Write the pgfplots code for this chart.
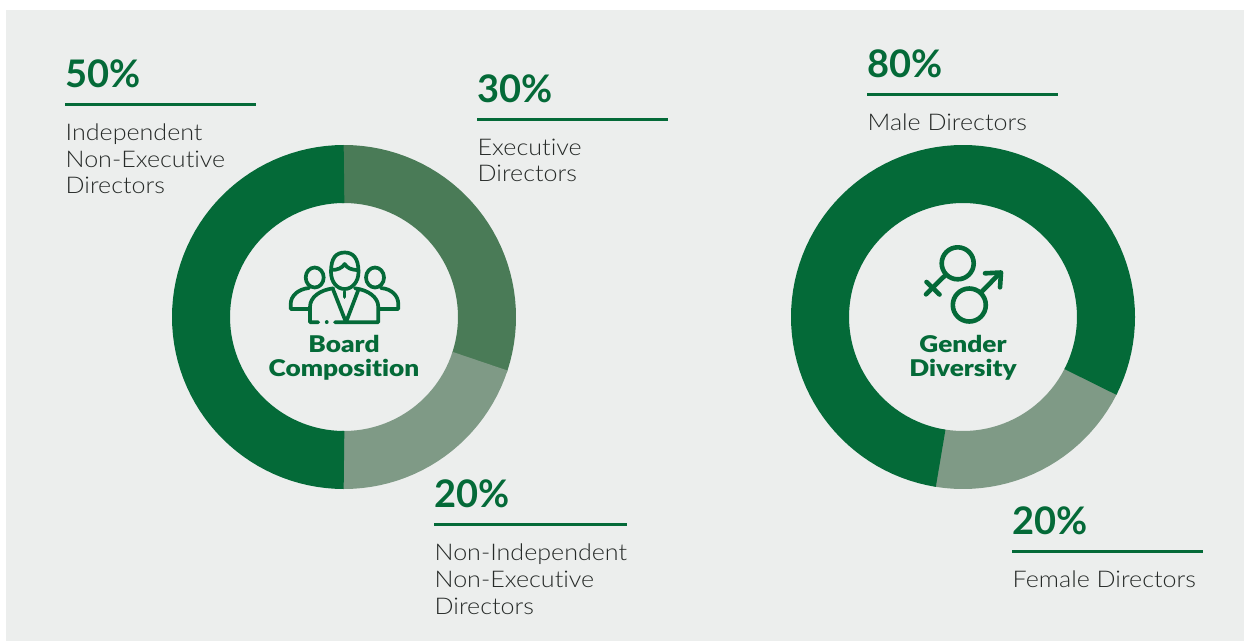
\documentclass[border=0pt]{standalone}
\usepackage{fontspec}
\setmainfont{Lato Light}[FakeStretch=1.09, Ligatures=CommonOff]
\newfontfamily\pctfont{Lato Bold}[Ligatures=CommonOff]
\newfontfamily\hubfont{Lato Black}[FakeStretch=1.14, Ligatures=CommonOff]
\usepackage{pgfplots}
\pgfplotsset{compat=1.18}
\definecolor{bgpanel}{HTML}{ECEEED}
\definecolor{gdark}{HTML}{046A38}
\definecolor{gmid}{HTML}{4A7B57}
\definecolor{glight}{HTML}{7F9A86}
\definecolor{bodytxt}{HTML}{262A28}

\pgfplotsset{
  ring/.style={scale only axis, width=344pt, height=344pt,
    xmin=-172, xmax=172, ymin=-172, ymax=172, hide axis, clip=false,
    anchor=center},
  seg/.style={data cs=polar, line width=58pt, line cap=butt, no markers, line join=round},
}
% x, pct baseline, pct, rule y, rule end
\newcommand{\stat}[5]{%
  \node[anchor=base west, inner sep=0, text=gdark, font=\pctfont\fontsize{38}{38}\selectfont] at (axis cs:#1,#2) {#3};
  \draw[gdark, line width=3pt] (axis cs:#1,#4) -- (axis cs:#5,#4);
}
\newcommand{\lab}[3]{%
  \node[anchor=base west, inner sep=0, text=bodytxt, font=\fontsize{23}{23}\selectfont] at (axis cs:#1,#2) {#3};
}
\newcommand{\hub}[3]{%
  \node[anchor=base, inner sep=0, text=gdark, font=\hubfont\fontsize{23}{23}\selectfont] at (axis cs:#1,#2) {#3};
}

\begin{document}
\begin{tikzpicture}[x=1pt,y=1pt]
\path[use as bounding box] (0,0) rectangle (1244,641);

\begin{axis}[
  at={(0,0)}, anchor=south west, scale only axis, width=1244pt, height=641pt,
  xmin=0, xmax=1244, ymin=0, ymax=641, y dir=reverse, hide axis, clip=true,
]
\addplot[fill=bgpanel, draw=none] coordinates {(6,10) (1244,10) (1244,641) (6,641)} -- cycle;

\stat{65}{87}{50\%}{104}{256}
\lab{65.5}{140}{Independent}
\lab{65.5}{167}{Non-Executive}
\lab{65.5}{193}{Directors}
\stat{477}{102}{30\%}{119.5}{667.5}
\lab{477.5}{155}{Executive}
\lab{477.5}{181}{Directors}
\stat{434}{507.5}{20\%}{524.5}{626.5}
\lab{434.5}{560}{Non-Independent}
\lab{434.5}{587}{Non-Executive}
\lab{434.5}{614}{Directors}
\stat{867}{77}{80\%}{94.5}{1058}
\lab{867.5}{130}{Male Directors}
\stat{1012}{534}{20\%}{551.5}{1203}
\lab{1012.5}{587}{Female Directors}

\hub{344}{352}{Board}
\hub{344}{376}{Composition}
\hub{963}{352}{Gender}
\hub{963}{376}{Diversity}

% people icon
\begin{scope}[gdark, line width=3.7pt, line cap=round, line join=round]
\draw (axis cs:331,272) .. controls (axis cs:331,258) and (axis cs:336,252.5) .. (axis cs:344.7,252.5)
  .. controls (axis cs:353,252.5) and (axis cs:358.5,258) .. (axis cs:358.5,272)
  .. controls (axis cs:358.5,282) and (axis cs:352,289) .. (axis cs:344.7,289)
  .. controls (axis cs:337,289) and (axis cs:331,282) .. (axis cs:331,272);
\draw (axis cs:331,270) .. controls (axis cs:338,270) and (axis cs:342,268) .. (axis cs:344.7,264)
  .. controls (axis cs:347,268) and (axis cs:351,270) .. (axis cs:358.5,270);
\draw (axis cs:314.7,277.5) ellipse [x radius=9pt, y radius=10pt];
\draw (axis cs:375,277.5) ellipse [x radius=9pt, y radius=10pt];
\draw (axis cs:309,288) .. controls (axis cs:298,289) and (axis cs:290.7,296) .. (axis cs:290.7,304)
  -- (axis cs:290.7,309) -- (axis cs:309.3,309);
\draw (axis cs:381,288) .. controls (axis cs:392,289) and (axis cs:398.3,296) .. (axis cs:398.3,304)
  -- (axis cs:398.3,309) -- (axis cs:380,309);
\draw (axis cs:333.3,288.3) .. controls (axis cs:320,290) and (axis cs:310,297) .. (axis cs:310,307)
  -- (axis cs:310,322.3) -- (axis cs:318.3,322.3);
\draw (axis cs:326.7,322.3) -- (axis cs:326.8,322.3);
\draw (axis cs:335,322.3) -- (axis cs:378.3,322.3) -- (axis cs:378.3,307)
  .. controls (axis cs:378.3,297) and (axis cs:368,290) .. (axis cs:355,288.3);
\draw (axis cs:333.3,290) -- (axis cs:346,322.3) -- (axis cs:358.3,290);
\draw (axis cs:344.5,291.7) -- (axis cs:344.5,297);
\end{scope}

% gender icon
\begin{scope}[gdark, line width=4.6pt, line cap=round, line join=round]
\draw (axis cs:957.7,263.3) circle [radius=16pt];
\draw (axis cs:945.5,275) -- (axis cs:926,294.3);
\draw (axis cs:926.5,282) -- (axis cs:939.5,294.5);
\draw (axis cs:969.3,305) circle [radius=16.5pt];
\draw (axis cs:981,292.5) -- (axis cs:1000,273);
\draw (axis cs:985,273.3) -- (axis cs:1001,272.5) -- (axis cs:1000,287.3);
\end{scope}
\end{axis}

% board composition ring: angle, radius; dark drawn last so that it covers the seams
\begin{axis}[ring, at={(344,324)}]
\addplot[seg, gmid] coordinates {
(91,143) (90,143) (87,143) (84,143) (81,143) (78,143) (75,143) (72,143) (69,143) (66,143) (63,143)
(60,143) (57,143) (54,143) (51,143) (48,143) (45,143) (42,143) (39,143) (36,143) (33,143)
(30,143) (27,143) (24,143) (21,143) (18,143) (15,143) (12,143) (9,143) (6,143) (3,143)
(0,143) (-3,143) (-6,143) (-9,143) (-12,143) (-15,143) (-18,143) (-19,143)};
\addplot[seg, glight] coordinates {
(-18,143) (-18.3,143) (-21,143) (-24,143) (-27,143) (-30,143) (-33,143) (-36,143) (-39,143) (-42,143) (-45,143)
(-48,143) (-51,143) (-54,143) (-57,143) (-60,143) (-63,143) (-66,143) (-69,143) (-72,143) (-75,143)
(-78,143) (-81,143) (-84,143) (-87,143) (-90,143) (-91,143)};
\addplot[seg, gdark] coordinates {
(90,143) (90.3,143) (93,143) (96,143) (99,143) (102,143) (105,143) (108,143) (111,143) (114,143) (117,143)
(120,143) (123,143) (126,143) (129,143) (132,143) (135,143) (138,143) (141,143) (144,143) (147,143)
(150,143) (153,143) (156,143) (159,143) (162,143) (165,143) (168,143) (171,143) (174,143) (177,143)
(180,143) (183,143) (186,143) (189,143) (192,143) (195,143) (198,143) (201,143) (204,143) (207,143)
(210,143) (213,143) (216,143) (219,143) (222,143) (225,143) (228,143) (231,143) (234,143) (237,143)
(240,143) (243,143) (246,143) (249,143) (252,143) (255,143) (258,143) (261,143) (264,143) (267,143) (269.7,143) (270,143)};
\end{axis}

% gender diversity ring
\begin{axis}[ring, at={(963,324)}]
\addplot[seg, glight] coordinates {
(-26,143) (-27,143) (-30,143) (-33,143) (-36,143) (-39,143) (-42,143) (-45,143) (-48,143) (-51,143) (-54,143)
(-57,143) (-60,143) (-63,143) (-66,143) (-69,143) (-72,143) (-75,143) (-78,143) (-81,143) (-84,143)
(-87,143) (-90,143) (-93,143) (-96,143) (-99,143) (-100,143)};
\addplot[seg, gdark] coordinates {
(-27,143) (-26.7,143) (-24,143) (-21,143) (-18,143) (-15,143) (-12,143) (-9,143) (-6,143) (-3,143) (0,143)
(3,143) (6,143) (9,143) (12,143) (15,143) (18,143) (21,143) (24,143) (27,143) (30,143)
(33,143) (36,143) (39,143) (42,143) (45,143) (48,143) (51,143) (54,143) (57,143) (60,143)
(63,143) (66,143) (69,143) (72,143) (75,143) (78,143) (81,143) (84,143) (87,143) (90,143)
(93,143) (96,143) (99,143) (102,143) (105,143) (108,143) (111,143) (114,143) (117,143) (120,143)
(123,143) (126,143) (129,143) (132,143) (135,143) (138,143) (141,143) (144,143) (147,143) (150,143)
(153,143) (156,143) (159,143) (162,143) (165,143) (168,143) (171,143) (174,143) (177,143) (180,143)
(183,143) (186,143) (189,143) (192,143) (195,143) (198,143) (201,143) (204,143) (207,143) (210,143)
(213,143) (216,143) (219,143) (222,143) (225,143) (228,143) (231,143) (234,143) (237,143) (240,143)
(243,143) (246,143) (249,143) (252,143) (255,143) (258,143) (260.7,143) (261,143)};
\end{axis}
\end{tikzpicture}
\end{document}
